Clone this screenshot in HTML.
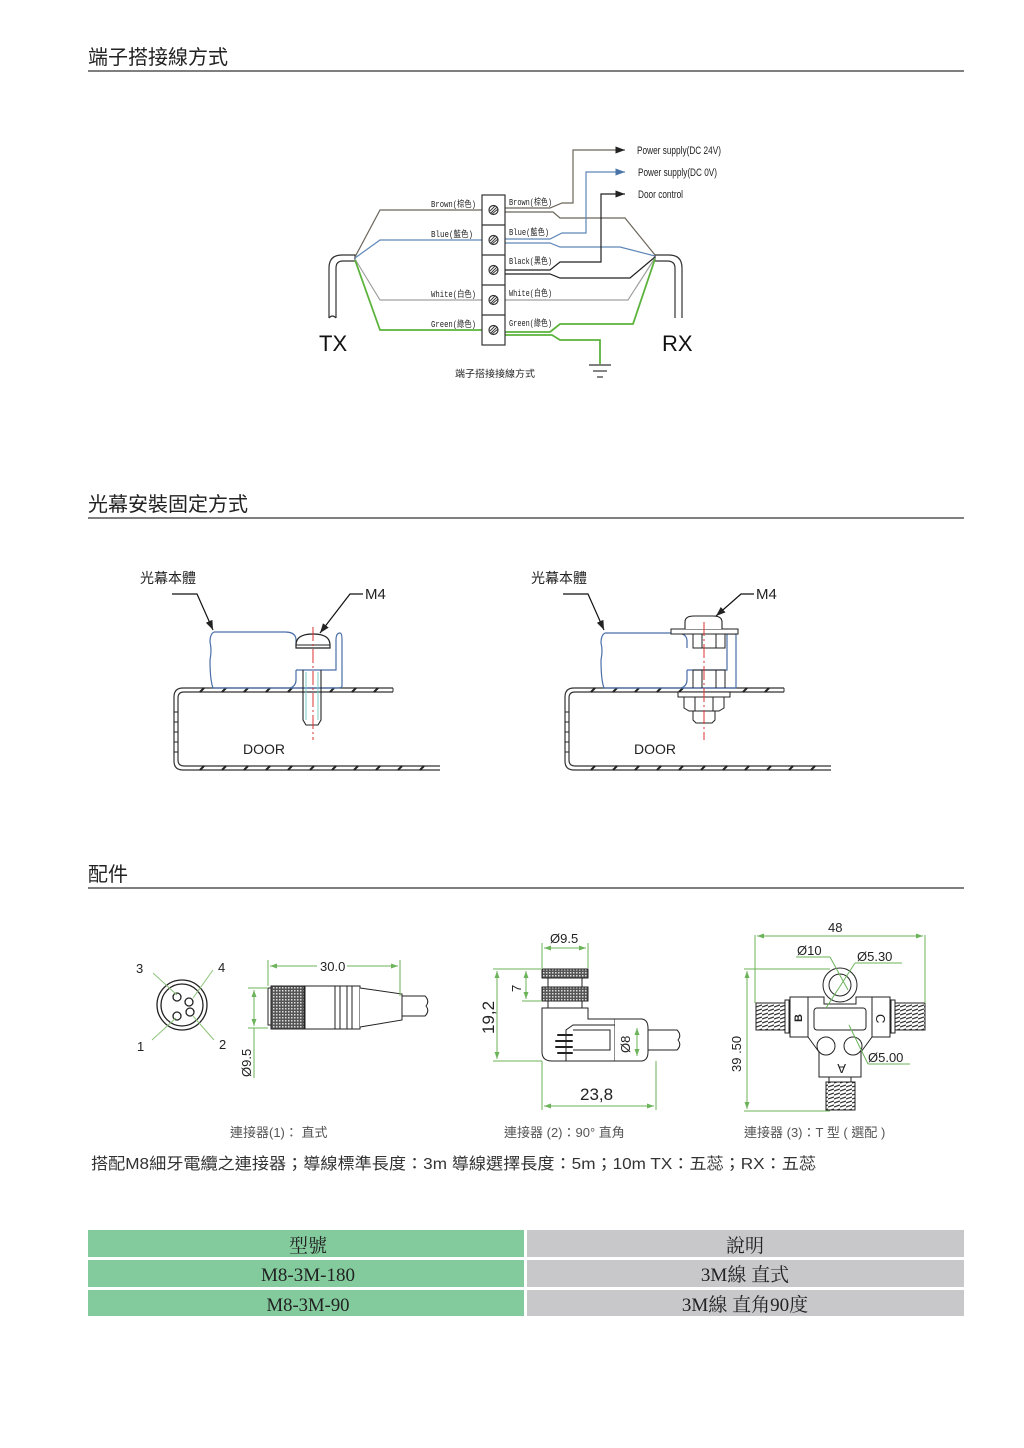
<!DOCTYPE html>
<html><head><meta charset="utf-8">
<style>
html,body{margin:0;padding:0;background:#fff;}
svg{display:block;}
text{font-family:"Liberation Sans","Noto Sans CJK TC",sans-serif;}
.h{font-size:20px;fill:#222;}
.cj{font-family:"Liberation Sans","Noto Sans CJK TC",sans-serif;}
.sm{font-size:9px;fill:#222;font-family:"Liberation Mono","Noto Sans CJK TC",monospace;}
.dim{font-size:13px;fill:#222;}
.cap{font-size:13px;fill:#555;}
.tb{font-family:"Liberation Serif","Noto Serif CJK SC",serif;font-size:19px;fill:#222;}
</style></head>
<body>
<svg width="1024" height="1448" viewBox="0 0 1024 1448" xmlns="http://www.w3.org/2000/svg">
<defs>
<marker id="ar" markerWidth="8" markerHeight="6" refX="8" refY="3" orient="auto"><path d="M0,0 L8,3 L0,6z" fill="#222"/></marker>
<marker id="arb" markerWidth="8" markerHeight="6" refX="8" refY="3" orient="auto"><path d="M0,0 L8,3 L0,6z" fill="#4a74a8"/></marker>
<marker id="ag" markerWidth="7" markerHeight="5" refX="7" refY="2.5" orient="auto"><path d="M0,0 L7,2.5 L0,5z" fill="#6cb35a"/></marker>
<marker id="ag2" markerWidth="7" markerHeight="5" refX="0" refY="2.5" orient="auto"><path d="M7,0 L0,2.5 L7,5z" fill="#6cb35a"/></marker>
<pattern id="knurl" width="3" height="3" patternUnits="userSpaceOnUse"><rect width="3" height="3" fill="#555"/><rect width="1.5" height="1.5" fill="#ddd"/></pattern>
<pattern id="thr" width="6" height="4" patternUnits="userSpaceOnUse"><rect width="6" height="4" fill="#fff"/><path d="M0,3 L6,1" stroke="#333" stroke-width="1.3"/></pattern>
</defs>

<!-- Section headers -->
<text x="88" y="64" class="h">端子搭接線方式</text>
<line x1="88" y1="71" x2="964" y2="71" stroke="#333" stroke-width="1.2"/>
<text x="88" y="511" class="h">光幕安裝固定方式</text>
<line x1="88" y1="518" x2="964" y2="518" stroke="#333" stroke-width="1.2"/>
<text x="88" y="881" class="h">配件</text>
<line x1="88" y1="888" x2="964" y2="888" stroke="#333" stroke-width="1.2"/>

<!-- Wiring diagram -->
<g fill="none" stroke-width="1.2">
 <!-- TX cable -->
 <path d="M329,318 V268 Q329,255 342,255 H355 V261 H343 Q336,261 336,268 V318" stroke="#333"/>
 <path d="M329,318 q3.5,-4 7,0" stroke="#333"/>
 <!-- RX cable -->
 <path d="M682,318 V268 Q682,255 669,255 H655 V261 H667 Q675,261 675,268 V318" stroke="#333"/>
 <!-- left wires -->
 <path d="M355,257 L380,210 H482" stroke="#6b655a"/>
 <path d="M355,258 L380,240 H482" stroke="#5d86b8"/>
 <path d="M355,259 L380,300 H482" stroke="#a0a0a0"/>
 <path d="M355,260 L380,330 H482" stroke="#5cb33c" stroke-width="1.8"/>
 <!-- right brown -->
 <path d="M505,212 H553 L560,218 H625 L655,255" stroke="#6b655a"/>
 <path d="M505,208 H550 L562,203 H573 V150 H625" stroke="#6b655a" marker-end="url(#ar)"/>
 <!-- blue -->
 <path d="M505,243 H550 L560,247 H620 L655,256" stroke="#5d86b8"/>
 <path d="M505,239 H550 L562,233 H586 V172 H625" stroke="#5d86b8" marker-end="url(#arb)"/>
 <!-- black -->
 <path d="M505,270 H550 L560,262 H601 V194 H625" stroke="#222" marker-end="url(#ar)"/>
 <path d="M505,274 H550 L560,278 H630 L655,257" stroke="#222"/>
 <!-- white -->
 <path d="M505,300 H628 L655,258" stroke="#a0a0a0"/>
 <!-- green -->
 <path d="M505,332 H550 L560,324 H633 L655,259" stroke="#5cb33c" stroke-width="1.8"/>
 <path d="M505,335 H552 L560,340 H600 V364" stroke="#5cb33c" stroke-width="1.8"/>
</g>
<g stroke="#333" stroke-width="1.2">
 <line x1="589" y1="365" x2="611" y2="365"/><line x1="593" y1="371" x2="607" y2="371"/><line x1="597" y1="377" x2="603" y2="377"/>
</g>
<!-- terminal block -->
<g stroke="#333" stroke-width="1.2" fill="#fff">
 <rect x="482" y="195" width="23" height="150"/>
 <line x1="482" y1="225" x2="505" y2="225"/><line x1="482" y1="255" x2="505" y2="255"/>
 <line x1="482" y1="285" x2="505" y2="285"/><line x1="482" y1="315" x2="505" y2="315"/>
 <g fill="none"><circle cx="493.5" cy="210" r="4.5"/><circle cx="493.5" cy="240" r="4.5"/><circle cx="493.5" cy="270" r="4.5"/><circle cx="493.5" cy="300" r="4.5"/><circle cx="493.5" cy="330" r="4.5"/></g>
 <path d="M491,213 L497,207 M490,211 L495,206 M492,214 L498,209 M491,243 L497,237 M490,241 L495,236 M492,244 L498,239 M491,273 L497,267 M490,271 L495,266 M492,274 L498,269 M491,303 L497,297 M490,301 L495,296 M492,304 L498,299 M491,333 L497,327 M490,331 L495,326 M492,334 L498,329" stroke-width="0.9"/>
</g>
<g class="sm">
 <text x="431" y="207" textLength="45" lengthAdjust="spacingAndGlyphs" class="sm">Brown(棕色)</text>
 <text x="431" y="237" textLength="42" lengthAdjust="spacingAndGlyphs" class="sm">Blue(藍色)</text>
 <text x="431" y="297" textLength="45" lengthAdjust="spacingAndGlyphs" class="sm">White(白色)</text>
 <text x="431" y="327" textLength="45" lengthAdjust="spacingAndGlyphs" class="sm">Green(綠色)</text>
 <text x="509" y="205" textLength="43" lengthAdjust="spacingAndGlyphs" class="sm">Brown(棕色)</text>
 <text x="509" y="235" textLength="40" lengthAdjust="spacingAndGlyphs" class="sm">Blue(藍色)</text>
 <text x="509" y="264" textLength="43" lengthAdjust="spacingAndGlyphs" class="sm">Black(黑色)</text>
 <text x="509" y="296" textLength="43" lengthAdjust="spacingAndGlyphs" class="sm">White(白色)</text>
 <text x="509" y="326" textLength="43" lengthAdjust="spacingAndGlyphs" class="sm">Green(綠色)</text>
</g>
<text x="637" y="154" font-size="11" textLength="84" lengthAdjust="spacingAndGlyphs" fill="#222">Power supply(DC 24V)</text>
<text x="638" y="176" font-size="11" textLength="79" lengthAdjust="spacingAndGlyphs" fill="#222">Power supply(DC 0V)</text>
<text x="638" y="198" font-size="11" textLength="45" lengthAdjust="spacingAndGlyphs" fill="#222">Door control</text>
<text x="319" y="351" font-size="22" fill="#111">TX</text>
<text x="662" y="351" font-size="22" fill="#111">RX</text>
<text x="455" y="377" font-size="9.5" fill="#222" textLength="80" lengthAdjust="spacingAndGlyphs">端子搭接接線方式</text>

<!-- Mounting drawings -->
<g id="door1">
 <!-- door plate -->
 <path d="M393,688 H183 Q174,688 174,697 V761 Q174,770 183,770 H440" fill="none" stroke="#333" stroke-width="1.2"/>
 <path d="M393,692 H184 Q178,692 178,698 V760 Q178,766 184,766 H440" fill="none" stroke="#333" stroke-width="1.2"/>
 <line x1="393" y1="688" x2="393" y2="692" stroke="#333"/>
 <path d="M200,692 l4,-4 M222,692 l4,-4 M244,692 l4,-4 M266,692 l4,-4 M288,692 l4,-4 M330,692 l4,-4 M352,692 l4,-4 M374,692 l4,-4 M200,770 l4,-4 M222,770 l4,-4 M244,770 l4,-4 M266,770 l4,-4 M288,770 l4,-4 M310,770 l4,-4 M332,770 l4,-4 M354,770 l4,-4 M376,770 l4,-4 M398,770 l4,-4 M420,770 l4,-4" stroke="#222" stroke-width="2"/>
 <path d="M174,712 h4 M174,722 h4 M174,732 h4 M174,742 h4 M174,752 h4" stroke="#222" stroke-width="1"/>
 <!-- body -->
 <path d="M214,632 H285 Q296,632 296,640 V646 M296,670 H336 V640 Q336,633 340,633 Q342,633 342,640 V686 Q342,688 338,688 H290 Q296,686 296,680 V670 M214,632 Q210,634 210,642 Q212,650 210,660 Q210,680 213,688 H290" fill="none" stroke="#4a6ea8" stroke-width="1.2"/>
 <!-- screw head -->
 <path d="M296,648 V645 Q296,634 313,634 Q330,634 330,645 V648 Z" fill="#fff" stroke="#222" stroke-width="1.2"/>
 <line x1="296" y1="645" x2="330" y2="645" stroke="#222"/>
 <!-- bolt -->
 <path d="M303,670 V720 L306,725 H318 L321,720 V670" fill="none" stroke="#222" stroke-width="1.1"/>
 <line x1="306" y1="672" x2="306" y2="720" stroke="#7cc"/><line x1="318" y1="672" x2="318" y2="720" stroke="#7cc"/>
 <line x1="313" y1="627" x2="313" y2="740" stroke="#d33" stroke-width="1" stroke-dasharray="14,3,2,3"/>
 <!-- leaders -->
 <path d="M172,594 H197 L213,630" fill="none" stroke="#111" stroke-width="1.2" marker-end="url(#ar)"/>
 <path d="M363,594 H350 L320,633" fill="none" stroke="#111" stroke-width="1.2" marker-end="url(#ar)"/>
 <text x="140" y="583" font-size="14" fill="#222">光幕本體</text>
 <text x="365" y="599" font-size="15" fill="#222">M4</text>
 <text x="243" y="754" font-size="14" fill="#222">DOOR</text>
</g>
<g transform="translate(391,0)">
 <path d="M393,688 H183 Q174,688 174,697 V761 Q174,770 183,770 H440" fill="none" stroke="#333" stroke-width="1.2"/>
 <path d="M393,692 H184 Q178,692 178,698 V760 Q178,766 184,766 H440" fill="none" stroke="#333" stroke-width="1.2"/>
 <line x1="393" y1="688" x2="393" y2="692" stroke="#333"/>
 <path d="M200,692 l4,-4 M222,692 l4,-4 M244,692 l4,-4 M266,692 l4,-4 M288,692 l4,-4 M352,692 l4,-4 M374,692 l4,-4 M200,770 l4,-4 M222,770 l4,-4 M244,770 l4,-4 M266,770 l4,-4 M288,770 l4,-4 M310,770 l4,-4 M332,770 l4,-4 M354,770 l4,-4 M376,770 l4,-4 M398,770 l4,-4 M420,770 l4,-4" stroke="#222" stroke-width="2"/>
 <path d="M174,712 h4 M174,722 h4 M174,732 h4 M174,742 h4 M174,752 h4" stroke="#222" stroke-width="1"/>
 <path d="M214,633 H285 Q296,633 296,641 V648 M296,670 H336 V634 H345 V688 H290 Q296,686 296,680 V670 M214,633 Q210,635 210,643 Q212,650 210,660 Q210,680 213,688 H290" fill="none" stroke="#4a6ea8" stroke-width="1.2"/>
 <rect x="280" y="629" width="67" height="5" fill="#fff" stroke="#222"/>
 <path d="M294,629 V622 Q294,616 303,616 H322 Q331,616 331,622 V629" fill="#fff" stroke="#222" stroke-width="1.1"/>
 <path d="M302,634 V648 H334 V634 M311,634 V648 M325,634 V648" fill="none" stroke="#222"/>
 <path d="M302,688 V670 H334 V688 M311,670 V688 M325,670 V688" fill="none" stroke="#222"/>
 <rect x="287" y="692" width="52" height="5" fill="#fff" stroke="#222"/>
 <path d="M293,697 V708 L298,711 H328 L333,708 V697 M304,697 V711 M322,697 V711" fill="none" stroke="#222"/>
 <path d="M302,711 V720 L305,723 H321 L324,720 V711" fill="none" stroke="#222"/>
 <line x1="313" y1="622" x2="313" y2="740" stroke="#d33" stroke-width="1" stroke-dasharray="14,3,2,3"/>
 <path d="M172,594 H197 L213,630" fill="none" stroke="#111" stroke-width="1.2" marker-end="url(#ar)"/>
 <path d="M363,594 H350 L325,616" fill="none" stroke="#111" stroke-width="1.2" marker-end="url(#ar)"/>
 <text x="140" y="583" font-size="14" fill="#222">光幕本體</text>
 <text x="365" y="599" font-size="15" fill="#222">M4</text>
 <text x="243" y="754" font-size="14" fill="#222">DOOR</text>
</g>

<!-- Accessories -->
<!-- connector 1 face -->
<g stroke="#222" fill="none" stroke-width="1.3">
 <circle cx="182" cy="1005" r="25"/><circle cx="182" cy="1005" r="21"/>
 <circle cx="177" cy="997" r="4"/><circle cx="189" cy="1002" r="4"/><circle cx="177" cy="1016" r="4"/><circle cx="190" cy="1012" r="4"/>
</g>
<g stroke="#8cc47a" stroke-width="1">
 <line x1="153" y1="973" x2="177" y2="995"/><line x1="213" y1="970" x2="193" y2="998"/>
 <line x1="152" y1="1040" x2="176" y2="1018"/><line x1="214" y1="1040" x2="193" y2="1016"/>
</g>
<text x="136" y="973" class="dim" font-size="15">3</text>
<text x="218" y="972" class="dim" font-size="15">4</text>
<text x="137" y="1051" class="dim" font-size="15">1</text>
<text x="219" y="1049" class="dim" font-size="15">2</text>
<!-- connector 1 side -->
<rect x="268" y="988" width="3" height="37" fill="#fff" stroke="#222"/>
<rect x="271" y="986" width="33" height="43" fill="url(#knurl)" stroke="#222"/>
<rect x="305" y="986" width="55" height="43" fill="#fff" stroke="#222"/>
<path d="M335,986 V1029 M340,986 V1029 M347,986 V1029 M352,986 V1029" stroke="#222"/>
<path d="M360,988 L402,994 V1020 L360,1027" fill="#fff" stroke="#222"/>
<path d="M402,996 H425 Q430,1001 426,1006 Q430,1011 425,1016 H402" fill="none" stroke="#222"/>
<g stroke="#6cb35a" stroke-width="1" fill="none">
 <line x1="268" y1="960" x2="268" y2="986"/><line x1="400" y1="960" x2="400" y2="996"/>
 <line x1="270" y1="966" x2="398" y2="966" marker-start="url(#ag2)" marker-end="url(#ag)"/>
 <line x1="248" y1="988" x2="268" y2="988"/><line x1="248" y1="1028" x2="268" y2="1028"/>
 <line x1="254" y1="990" x2="254" y2="1026" marker-start="url(#ag2)" marker-end="url(#ag)"/>
 <line x1="254" y1="1028" x2="254" y2="1078"/>
</g>
<rect x="317" y="958" width="30" height="14" fill="#fff"/>
<text x="320" y="971" class="dim">30.0</text>
<text transform="translate(251,1077) rotate(-90)" class="dim">Ø9.5</text>

<!-- connector 2 -->
<rect x="542" y="969" width="46" height="9" fill="url(#knurl)" stroke="#222"/>
<rect x="548" y="978" width="34" height="9" fill="#fff" stroke="#222"/>
<rect x="542" y="987" width="46" height="14" fill="url(#knurl)" stroke="#222"/>
<rect x="548" y="1001" width="34" height="7" fill="#fff" stroke="#222"/>
<path d="M542,1008 H588 V1019 H615 V1061 H552 Q542,1061 542,1052 Z" fill="#fff" stroke="#222"/>
<path d="M566,1061 V1030 L573,1025 H615 M573,1030 H610 V1050 H573" fill="none" stroke="#222"/>
<path d="M558,1035 h14 M556,1041 h16 M556,1047 h16 M558,1053 h14" stroke="#222" stroke-width="2" stroke-linecap="round" fill="none"/>
<path d="M615,1019 H642 Q648,1020 648,1028 V1052 Q648,1060 642,1061 H615" fill="#fff" stroke="#222"/>
<path d="M648,1030 H677 Q682,1035 678,1040 Q682,1045 677,1050 H648" fill="none" stroke="#222"/>
<g stroke="#6cb35a" stroke-width="1" fill="none">
 <line x1="542" y1="943" x2="542" y2="968"/><line x1="588" y1="943" x2="588" y2="968"/>
 <line x1="544" y1="948" x2="586" y2="948" marker-start="url(#ag2)" marker-end="url(#ag)"/>
 <line x1="493" y1="969" x2="542" y2="969"/><line x1="493" y1="1061" x2="542" y2="1061"/>
 <line x1="497" y1="971" x2="497" y2="1059" marker-start="url(#ag2)" marker-end="url(#ag)"/>
 <line x1="522" y1="1001" x2="542" y2="1001"/>
 <line x1="526" y1="971" x2="526" y2="999" marker-start="url(#ag2)" marker-end="url(#ag)"/>
 <line x1="542" y1="1061" x2="542" y2="1110"/><line x1="656" y1="1061" x2="656" y2="1110"/>
 <line x1="544" y1="1106" x2="654" y2="1106" marker-start="url(#ag2)" marker-end="url(#ag)"/>
 <line x1="637" y1="1028" x2="637" y2="1056" marker-start="url(#ag2)" marker-end="url(#ag)"/>
</g>
<text x="550" y="943" class="dim">Ø9.5</text>
<text transform="translate(521,992) rotate(-90)" class="dim">7</text>
<text transform="translate(494,1034) rotate(-90)" font-size="17" fill="#222">19,2</text>
<text transform="translate(630,1053) rotate(-90)" class="dim" font-size="14">Ø8</text>
<text x="580" y="1100" font-size="17" fill="#222">23,8</text>

<!-- connector 3 T -->
<rect x="756" y="1003" width="29" height="27" fill="url(#thr)" stroke="#222"/>
<rect x="785" y="1000" width="4" height="33" fill="#fff" stroke="#222"/>
<rect x="895" y="1003" width="30" height="27" fill="url(#thr)" stroke="#222"/>
<rect x="891" y="1000" width="4" height="33" fill="#fff" stroke="#222"/>
<path d="M790,997 H824 V1004 H856 V997 H890 V1037 H872 L861,1052 V1077 H819 V1052 L808,1037 H790 Z" fill="#fff" stroke="#222"/>
<path d="M808,997 V1037 M872,997 V1037" stroke="#222"/>
<rect x="814" y="1008" width="52" height="22" rx="3" fill="#fff" stroke="#222"/>
<circle cx="826" cy="1046" r="9" fill="none" stroke="#222"/><circle cx="853" cy="1046" r="9" fill="none" stroke="#222"/>
<circle cx="840" cy="985" r="17" fill="#fff" stroke="#222"/><circle cx="840" cy="985" r="11" fill="none" stroke="#222"/>
<rect x="829" y="1077" width="22" height="5" fill="#fff" stroke="#222"/>
<rect x="826" y="1082" width="29" height="28" fill="url(#thr)" stroke="#222"/>
<text transform="translate(802,1022) rotate(-90)" font-size="11" font-weight="bold" fill="#222">B</text>
<text transform="translate(876,1014) rotate(90)" font-size="13" fill="#222">C</text>
<text transform="translate(846,1064) rotate(180)" font-size="13" fill="#222">A</text>
<g stroke="#6cb35a" stroke-width="1" fill="none">
 <line x1="755" y1="935" x2="755" y2="1003"/><line x1="925" y1="935" x2="925" y2="1003"/>
 <line x1="757" y1="936" x2="923" y2="936" marker-start="url(#ag2)" marker-end="url(#ag)"/>
 <line x1="744" y1="969" x2="830" y2="969"/><line x1="744" y1="1111" x2="830" y2="1111"/>
 <line x1="747" y1="971" x2="747" y2="1109" marker-start="url(#ag2)" marker-end="url(#ag)"/>
 <line x1="796" y1="957" x2="830" y2="957"/><line x1="830" y1="957" x2="848" y2="990"/>
 <line x1="855" y1="963" x2="902" y2="963"/><line x1="855" y1="963" x2="826" y2="1008"/>
 <line x1="868" y1="1064" x2="910" y2="1064"/><line x1="868" y1="1064" x2="849" y2="1025"/>
</g>
<text x="828" y="932" class="dim" fill="#555">48</text>
<text x="797" y="955" class="dim">Ø10</text>
<text x="857" y="961" class="dim">Ø5.30</text>
<text x="868" y="1062" class="dim">Ø5.00</text>
<text transform="translate(741,1072) rotate(-90)" class="dim" fill="#666">39 .50</text>

<text x="230" y="1137" class="cap">連接器(1)： 直式</text>
<text x="504" y="1137" class="cap">連接器 (2)：90°  直角</text>
<text x="744" y="1137" class="cap">連接器 (3)：T 型 ( 選配 )</text>
<text x="91" y="1169" font-size="16" fill="#333" textLength="725" lengthAdjust="spacingAndGlyphs">搭配M8細牙電纜之連接器；導線標準長度：3m 導線選擇長度：5m；10m  TX：五蕊；RX：五蕊</text>

<!-- Table -->
<rect x="88" y="1230" width="436" height="27" fill="#83cb9d"/>
<rect x="527" y="1230" width="437" height="27" fill="#c8c8ca"/>
<rect x="88" y="1260" width="436" height="27" fill="#83cb9d"/>
<rect x="527" y="1260" width="437" height="27" fill="#c8c8ca"/>
<rect x="88" y="1290" width="436" height="26" fill="#83cb9d"/>
<rect x="527" y="1290" width="437" height="26" fill="#c8c8ca"/>
<text x="308" y="1252" class="tb" text-anchor="middle">型號</text>
<text x="745" y="1252" class="tb" text-anchor="middle">說明</text>
<text x="308" y="1281" class="tb" text-anchor="middle" textLength="94" lengthAdjust="spacingAndGlyphs">M8-3M-180</text>
<text x="745" y="1281" class="tb" text-anchor="middle">3M線  直式</text>
<text x="308" y="1311" class="tb" text-anchor="middle" textLength="83" lengthAdjust="spacingAndGlyphs">M8-3M-90</text>
<text x="745" y="1311" class="tb" text-anchor="middle">3M線  直角90度</text>
</svg>
</body></html>
